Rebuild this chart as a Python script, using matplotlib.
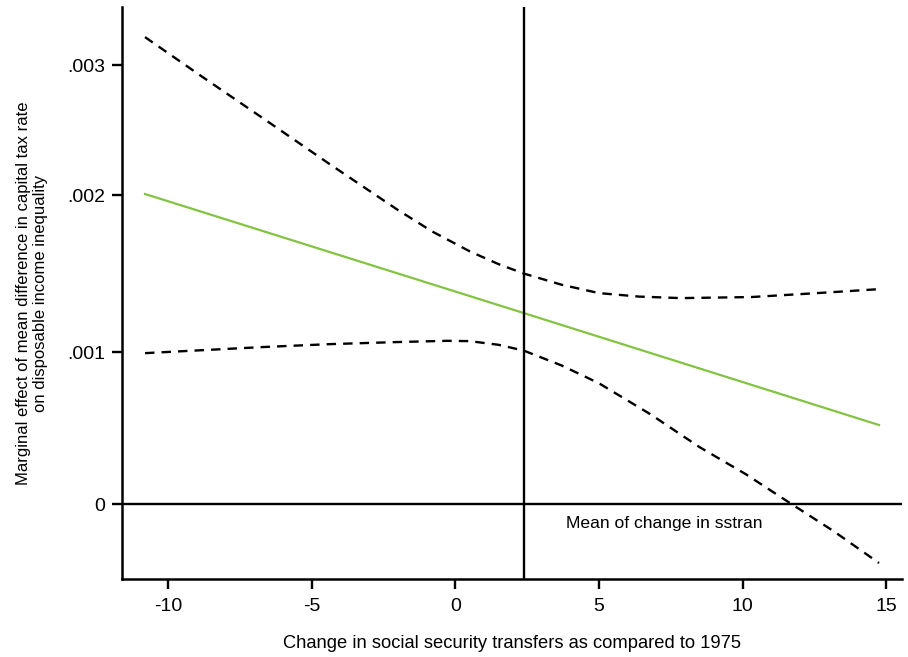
import matplotlib
matplotlib.use("Agg")
from matplotlib import pyplot as plt

plt.rcParams['font.family'] = ['Liberation Sans', 'DejaVu Sans']

# values
sstran = [-10.8, 2.38, 14.75]
effect = [0.00204, 0.001257, 0.00052]

upper_x = [-10.8, -8.8, -6.7, -4.4, -2.0, -0.8, 0.5, 1.5, 2.38, 3.7, 5.0, 6.4, 7.85, 10.3, 12.6, 14.75]
upper_y = [0.003072, 0.002810, 0.002539, 0.002240, 0.001935, 0.001793, 0.001663, 0.001579, 0.001517, 0.001443, 0.001388, 0.001365, 0.001355, 0.001362, 0.001388, 0.001414]

lower_x = [-10.8, -6.7, -4.4, -2.0, -0.3, 0.5, 1.5, 2.38, 3.7, 5.0, 6.8, 8.5, 10.1, 11.6, 13.2, 14.75]
lower_y = [0.000993, 0.001033, 0.001052, 0.001066, 0.001074, 0.001072, 0.001048, 0.001010, 0.000912, 0.000795, 0.000590, 0.000375, 0.000198, 0.000013, -0.000182, -0.000388]

mean_sstran = 2.38

xticks = [-10, -5, 0, 5, 10, 15]
ytick_pos = [0, 0.001, 0.002033, 0.002888]
ytick_lab = ['0', '.001', '.002', '.003']

fig = plt.figure(figsize=(9.08, 6.57), dpi=100)
ax = fig.add_axes([0.1344, 0.1187, 0.859, 0.8706])

ax.plot(upper_x, upper_y, color='black', lw=1.7, dashes=(4, 3))
ax.plot(lower_x, lower_y, color='black', lw=1.7, dashes=(4, 3))
ax.plot(sstran, effect, color='#82c341', lw=1.6)

ax.axhline(0, color='black', lw=1.7)
ax.axvline(mean_sstran, color='black', lw=1.7)
ax.text(3.84, -0.000125, 'Mean of change in sstran', fontsize=12.6, va='center', ha='left')

ax.set_xlim(-11.6, 15.55)
ax.set_ylim(-0.000493, 0.00327)
ax.set_xticks(xticks)
ax.set_xticklabels([str(v) for v in xticks])
ax.set_yticks(ytick_pos)
ax.set_yticklabels(ytick_lab)

for s in ['top', 'right']:
    ax.spines[s].set_visible(False)
for s in ['left', 'bottom']:
    ax.spines[s].set_linewidth(1.8)
ax.tick_params(axis='both', length=7, width=1.7, labelsize=14)
ax.tick_params(axis='x', pad=7)
ax.tick_params(axis='y', pad=5)

ax.set_xlabel('Change in social security transfers as compared to 1975', fontsize=13.2, labelpad=14)
ax.set_ylabel('Marginal effect of mean difference in capital tax rate\non disposable income inequality', fontsize=12, labelpad=14)

fig.savefig('out.png', dpi=100)
